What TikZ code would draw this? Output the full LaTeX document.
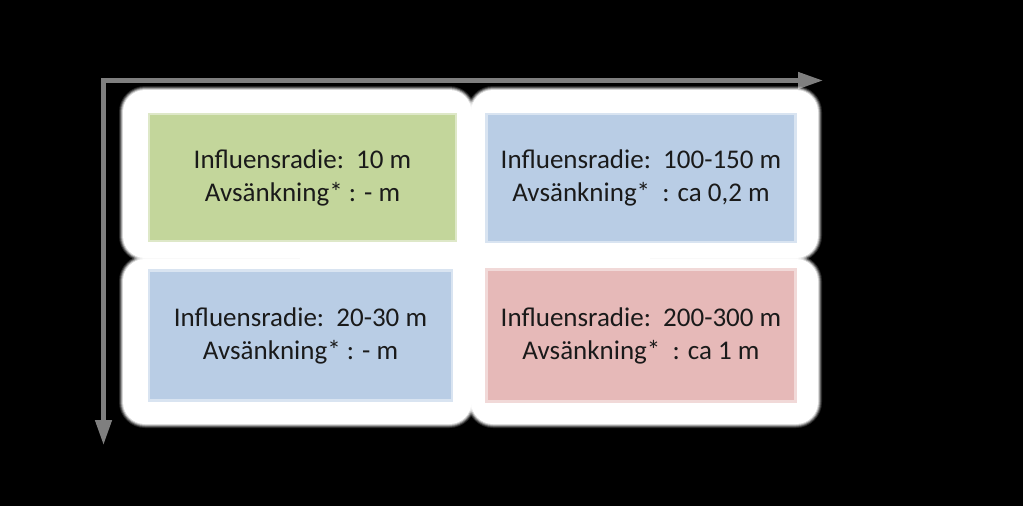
\documentclass[tikz,border=0pt]{standalone}
\usepackage{fontspec}
\setmainfont{Carlito}
\usetikzlibrary{arrows.meta}
\definecolor{axisgray}{HTML}{7F7F7F}
\definecolor{cgreen}{HTML}{C3D69B}
\definecolor{cblue}{HTML}{B9CDE5}
\definecolor{cred}{HTML}{E6B9B8}
\definecolor{ctext}{HTML}{1A1A1A}
\tikzset{
  axis/.style={draw=axisgray, line width=4.5pt, -{Triangle[length=25pt,width=16pt]}},
  cell/.style={rectangle, inner sep=0pt, line width=2.5pt, text=ctext, align=center,
    font=\fontsize{27}{33}\selectfont},
}
\newcommand\softpanel[4]{%
  \foreach \e/\o in {4/0.15,3/0.25,2/0.4,1/0.6}{%
    \path[fill=white, opacity=\o, rounded corners=22pt+\e pt]
      (#1-\e,#2-\e) rectangle (#3+\e,#4+\e);}%
  \path[fill=white, rounded corners=22pt] (#1,#2) rectangle (#3,#4);}
\begin{document}
\begin{tikzpicture}[x=1pt,y=-1pt]
\fill[black] (0,0) rectangle (1023,506);
\useasboundingbox (0,0) rectangle (1023,506);
% axes
\coordinate (origin) at (103.5,80.5);
\coordinate (xend) at (823,80.5);
\coordinate (yend) at (103.5,445);
\draw[axis, line cap=rect] (origin) -- (xend);
\draw[axis, line cap=rect] (origin) -- (yend);
% white panels
\softpanel{123}{90}{471.5}{258}
\softpanel{471}{90}{818}{258}
\softpanel{123}{259}{471.5}{424}
\softpanel{471}{259}{818}{424}
\fill[white] (300,200) rectangle (650,320);
% cells
\node[cell, fill=cgreen, draw=cgreen!55!white, minimum width=307pt, minimum height=127pt] (tl) at (302.5,177.5)
  {Influensradie:\ \ 10 m\\Avsänkning* : - m};
\node[cell, fill=cblue, draw=cblue!55!white, minimum width=309pt, minimum height=128pt] (tr) at (641,178)
  {Influensradie:\ \ 100-150 m\\Avsänkning*\ \ : ca 0,2 m};
\node[cell, fill=cblue, draw=cblue!55!white, minimum width=303pt, minimum height=130pt] (bl) at (300.5,335.5)
  {Influensradie:\ \ 20-30 m\\Avsänkning* : - m};
\node[cell, fill=cred, draw=cred!55!white, minimum width=309pt, minimum height=132pt] (br) at (641,335.5)
  {Influensradie:\ \ 200-300 m\\Avsänkning*\ \ : ca 1 m};
\end{tikzpicture}
\end{document}
